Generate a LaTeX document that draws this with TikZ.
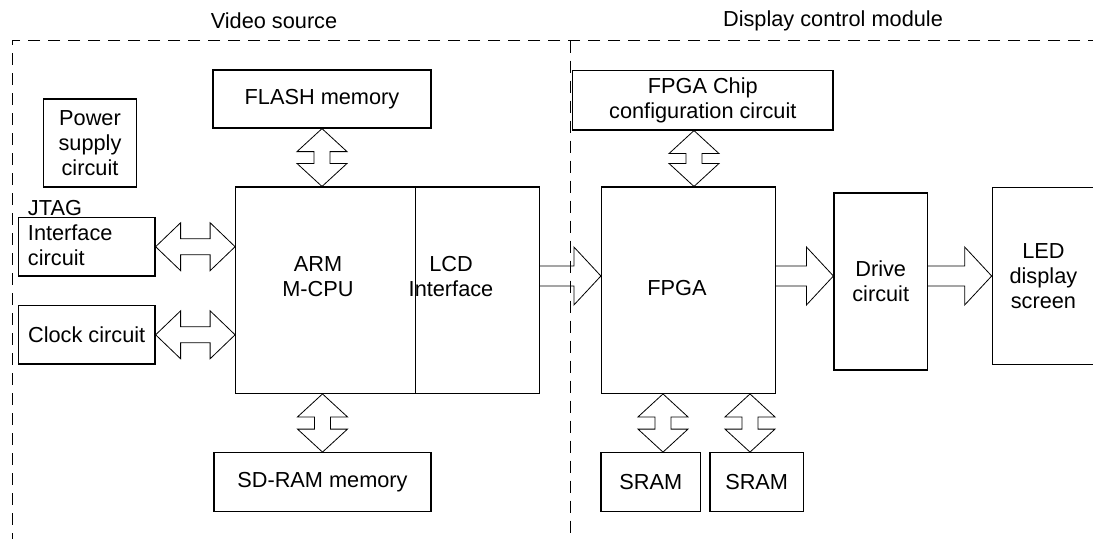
\documentclass[tikz,border=0pt]{standalone}
\usepackage{fontspec}
\setmainfont{Liberation Sans}
\usetikzlibrary{calc}

\tikzset{
  box/.style = {draw, line width = 0.9pt, inner sep = 0pt, align = center, font = \fontsize{16.3pt}{18.75pt}\selectfont},
  txt/.style = {inner sep = 0pt, align = center, font = \fontsize{16.3pt}{18.75pt}\selectfont},
  bus/.style = {line width = 0.6pt, line join = miter},
  zone/.style = {line width = 0.9pt, dash pattern = on 9pt off 6pt}
}

\newcommand{\busLR}[2]{%
  \draw [bus] let \p1 = (#1), \p2 = (#2) in
    (\p1) -- ++(18.75pt, 18pt) -- ++(0pt, -12pt) -- (\x2 - 18.75pt, \y1 + 6pt) -- ++(0pt, 12pt) -- (\p2)
    -- ++(-18.75pt, -18pt) -- ++(0pt, 12pt) -- (\x1 + 18.75pt, \y1 - 6pt) -- ++(0pt, -12pt) -- cycle;}
\newcommand{\busUD}[2]{%
  \draw [bus] let \p1 = (#1), \p2 = (#2) in
    (\p1) -- ++(18.75pt, -17.25pt) -- ++(-12.75pt, 0pt) -- (\x1 + 6pt, \y2 + 17.25pt) -- ++(12.75pt, 0pt) -- (\p2)
    -- ++(-18.75pt, 17.25pt) -- ++(12.75pt, 0pt) -- (\x1 - 6pt, \y1 - 17.25pt) -- ++(-12.75pt, 0pt) -- cycle;}
\newcommand{\busR}[2]{%
  \draw [bus] let \p1 = (#1), \p2 = (#2) in
    (\x1, \y2 + 7.5pt) -- (\x2 - 20.25pt, \y2 + 7.5pt) -- ++(0pt, 14.25pt) -- (\p2)
    -- ++(-20.25pt, -21.75pt) -- ++(0pt, 14.25pt) -- (\x1, \y2 - 7.5pt);}

\begin{document}
\begin{tikzpicture}[x = 0.75pt, y = -0.75pt]
    \useasboundingbox (0, 0) rectangle (1093, 539);
    \draw [zone] (1100, 40.7) -- (12.7, 40.7) -- (12.7, 545);
    \draw [zone] (570.7, 40.7) -- (570.7, 545);
    \node [txt] (vstitle) at (274, 20.7) {Video source};
    \node [txt] (dctitle) at (833, 20.7) {Display control module};

    \node [box, minimum width = 70pt, minimum height = 66pt] (power) at (90, 143) {Power\\supply\\circuit};
    \node [box, minimum width = 102.5pt, minimum height = 44pt] (jtag) at (86.7, 246.7) {};
    \node [txt, align = left, anchor = west] (jtagtxt) at (27.7, 233) {JTAG\\Interface\\circuit};
    \node [box, minimum width = 102.5pt, minimum height = 43.7pt] (clock) at (86.7, 334.8) {Clock circuit};
    \node [box, minimum width = 163.5pt, minimum height = 43.5pt] (flash) at (322, 99) {FLASH memory};
    \node [box, minimum width = 135pt, minimum height = 154.7pt] (arm) at (325.7, 290.2) {};
    \node [box, minimum width = 92.7pt, minimum height = 154.7pt] (lcd) at (477.5, 290.2) {};
    \node [txt] (armtxt) at (318, 276.5) {ARM\\M-CPU};
    \node [txt] (lcdtxt) at (451, 276.5) {LCD\\Interface};
    \node [box, minimum width = 162.75pt, minimum height = 44.25pt] (sdram) at (322.5, 482.2) {SD-RAM memory};

    \node [box, minimum width = 195.2pt, minimum height = 44.5pt] (cfg) at (702.8, 100.3) {FPGA Chip\\configuration circuit};
    \node [box, minimum width = 130.5pt, minimum height = 154.7pt] (fpga) at (688.5, 290.2) {};
    \node [txt] (fpgatxt) at (677, 288) {FPGA};
    \node [box, minimum width = 74.8pt, minimum height = 44.25pt] (sramA) at (650.8, 482.2) {SRAM};
    \node [box, minimum width = 70pt, minimum height = 44.25pt] (sramB) at (756.7, 482.2) {SRAM};
    \node [box, minimum width = 70pt, minimum height = 132.75pt] (drive) at (880.7, 281.5) {Drive\\circuit};
    \node [box, minimum width = 76.7pt, minimum height = 132.5pt] (led) at (1043.4, 276) {LED\\display\\screen};

    \busLR{jtag.east}{jtag.east -| arm.west}
    \busLR{clock.east}{clock.east -| arm.west}
    \busUD{flash.south}{flash.south |- arm.north}
    \busUD{sdram.north |- arm.south}{sdram.north}
    \busUD{694, 0 |- cfg.south}{694, 0 |- fpga.north}
    \busUD{663, 0 |- fpga.south}{663, 0 |- sramA.north}
    \busUD{750, 0 |- fpga.south}{750, 0 |- sramB.north}
    \busR{lcd.east |- led.west}{fpga.west |- led.west}
    \busR{fpga.east |- led.west}{drive.west |- led.west}
    \busR{drive.east |- led.west}{led.west}
\end{tikzpicture}
\end{document}
